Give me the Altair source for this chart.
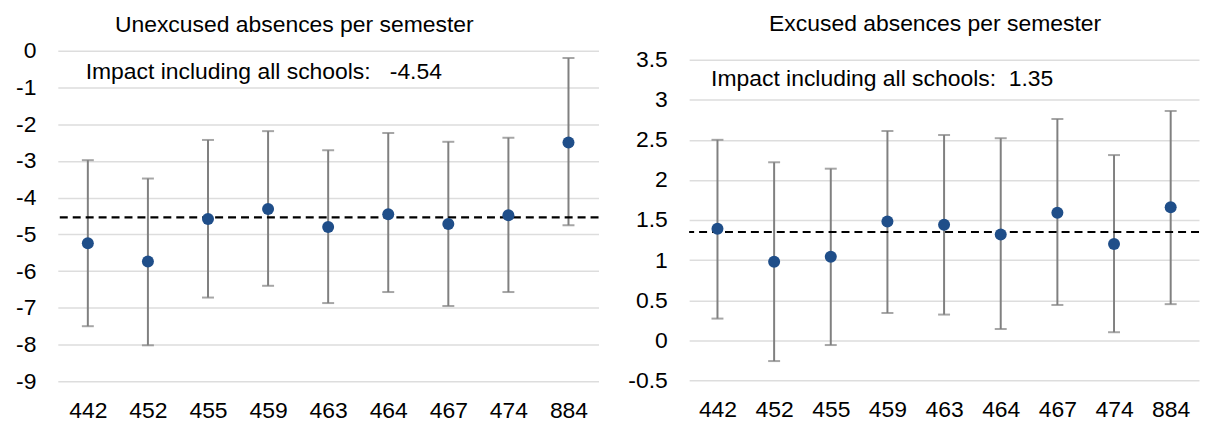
import altair as alt
import pandas as pd

schools = ["442", "452", "455", "459", "463", "464", "467", "474", "884"]

unexcused_est = [-5.24, -5.74, -4.58, -4.31, -4.80, -4.45, -4.72, -4.48, -2.50]
unexcused_low = [-7.50, -8.02, -6.72, -6.40, -6.87, -6.57, -6.95, -6.57, -4.75]
unexcused_high = [-2.98, -3.48, -2.43, -2.19, -2.71, -2.24, -2.48, -2.37, -0.20]

excused_est = [1.39, 0.98, 1.04, 1.48, 1.44, 1.32, 1.59, 1.20, 1.66]
excused_low = [0.27, -0.26, -0.06, 0.34, 0.32, 0.14, 0.44, 0.10, 0.45]
excused_high = [2.50, 2.22, 2.14, 2.61, 2.56, 2.52, 2.76, 2.31, 2.86]

panel_titles = ["Unexcused absences per semester", "Excused absences per semester"]
impact_label = "Impact including all schools:"
impact_values = [-4.54, 1.35]
impact_gaps = [3, 2]

left_ticks = [0, -1, -2, -3, -4, -5, -6, -7, -8, -9]
right_ticks = [3.5, 3, 2.5, 2, 1.5, 1, 0.5, 0, -0.5]

FONT = "Liberation Sans"
BLUE = "#1F4E89"
GRAY = "#808080"
FS = 23


def panel(est, low, high, impact, gap, title, ticks, domain, width, height,
          title_offset, title_dx, ann_x, ann_y):
    df = pd.DataFrame({"school": schools, "est": est, "low": low, "high": high})
    ref = pd.DataFrame({
        "impact": [impact],
        "label": [impact_label + "\u00a0" * gap + f"{impact:.2f}"],
    })
    x = alt.X(
        "school:N", sort=schools, title=None,
        scale=alt.Scale(type="point", padding=0.5),
        axis=alt.Axis(labelAngle=0, ticks=False, tickSize=0, domain=False, grid=False,
                      labelPadding=18, labelFontSize=FS, labelFont=FONT,
                      labelColor="black"),
    )
    yscale = alt.Scale(domain=domain, nice=False, zero=False)
    yaxis = alt.Axis(values=ticks, title=None, ticks=False, tickSize=0, domain=False,
                     grid=True, gridColor="#DDDDDD", gridWidth=1.5, labelPadding=22,
                     labelFontSize=FS, labelFont=FONT, labelColor="black",
                     labelExpr="'' + datum.value")

    def Y(field):
        return alt.Y(field, scale=yscale, axis=yaxis, title=None)

    base = alt.Chart(df)
    whisk = base.mark_rule(color=GRAY, strokeWidth=2).encode(
        x=x, y=Y("low:Q"), y2="high:Q")
    cap_lo = base.mark_tick(orient="horizontal", size=12, thickness=2, color=GRAY).encode(
        x=x, y=Y("low:Q"))
    cap_hi = base.mark_tick(orient="horizontal", size=12, thickness=2, color=GRAY).encode(
        x=x, y=Y("high:Q"))
    dash = alt.Chart(ref).mark_rule(color="black", strokeWidth=2.2, strokeDash=[8, 5]).encode(
        y=Y("impact:Q"))
    pts = base.mark_circle(size=145, color=BLUE, opacity=1).encode(x=x, y=Y("est:Q"))
    ann = alt.Chart(ref).mark_text(align="left", baseline="alphabetic", fontSize=FS,
                                   font=FONT, color="black").encode(
        x=alt.value(ann_x), y=alt.value(ann_y), text="label:N")
    return alt.layer(whisk, cap_lo, cap_hi, dash, pts, ann).properties(
        width=width, height=height,
        title=alt.TitleParams(title, fontSize=FS, font=FONT, fontWeight="normal",
                              color="black", anchor="middle", offset=title_offset,
                              dx=title_dx),
    )


# the right panel's plot top sits ~9px lower than the left one: extend its domain
# above the top gridline so the extra room stays blank
left = panel(unexcused_est, unexcused_low, unexcused_high, impact_values[0], impact_gaps[0],
             panel_titles[0], left_ticks, [-9, 0], 543, 332, 3, -34, 28, 28)
right = panel(excused_est, excused_low, excused_high, impact_values[1], impact_gaps[1],
              panel_titles[1], right_ticks, [-0.5, 3.612], 512, 331, 13, -9, 22, 35)

chart = alt.hconcat(left, right, spacing=27).properties(
    padding={"left": 7, "top": 4, "right": 0, "bottom": 0}
).configure_view(stroke=None)

chart.save("out.html", embed_options={"renderer": "svg", "actions": False})
